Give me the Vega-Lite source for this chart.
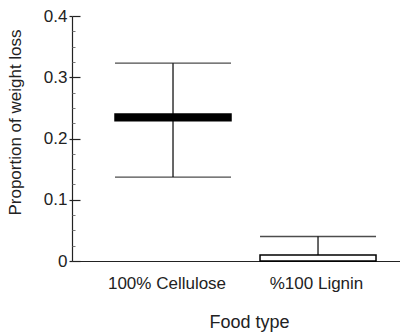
{
  "$schema": "https://vega.github.io/schema/vega-lite/v6.json",
  "width": 328,
  "height": 245,
  "autosize": "none",
  "padding": {"left": 72, "top": 16, "right": 0, "bottom": 71},
  "config": {
    "view": {"stroke": null},
    "font": "Liberation Sans",
    "axis": {"domainColor": "#222", "tickColor": "#222", "labelColor": "#222", "titleColor": "#222", "grid": false, "labelFont": "Liberation Sans", "titleFont": "Liberation Sans", "titleFontWeight": "normal"}
  },
  "data": {
    "values": [
      {"food": "100% Cellulose", "lo": 0.137, "q1": 0.229, "q3": 0.240, "hi": 0.323},
      {"food": "%100 Lignin", "lo": 0.0, "q1": 0.0, "q3": 0.010, "hi": 0.040}
    ]
  },
  "encoding": {
    "x": {
      "field": "food",
      "type": "nominal",
      "sort": null,
      "scale": {"domain": ["100% Cellulose", "%100 Lignin"], "paddingInner": 0.2, "paddingOuter": 0.231, "align": 0.642},
      "axis": {
        "title": "Food type",
        "titleFontSize": 18,
        "titleX": 177,
        "titleY": 66,
        "titleBaseline": "alphabetic",
        "titleAlign": "center",
        "labelAngle": 0,
        "labelFontSize": 17,
        "labelBaseline": "alphabetic",
        "labelPadding": 27,
        "ticks": false,
        "tickSize": 0,
        "domainWidth": 1.2,
        "labelOffset": {"condition": {"test": "datum.value == '100% Cellulose'", "value": -6}, "value": -1.5}
      }
    }
  },
  "resolve": {"axis": {"y": "independent"}},
  "layer": [
    {
      "mark": {"type": "rule", "color": "black", "strokeWidth": 1.2},
      "encoding": {
        "y": {
          "field": "lo",
          "type": "quantitative",
          "scale": {"domain": [0, 0.4], "nice": false},
          "axis": {
            "orient": "left",
            "title": "Proportion of weight loss",
            "titleFontSize": 17,
            "titleAngle": 270,
            "titleX": -52,
            "titleY": 106,
            "titleBaseline": "alphabetic",
            "titleAlign": "center",
            "values": [0, 0.1, 0.2, 0.3, 0.4],
            "format": "~g",
            "labelFontSize": 17,
            "labelPadding": 2,
            "tickSize": 3,
            "tickWidth": 1.2,
            "domainWidth": 1.2
          }
        },
        "y2": {"field": "hi"}
      }
    },
    {
      "mark": {"type": "tick", "color": "black", "size": 116, "thickness": 1.3},
      "encoding": {
        "y": {
          "field": "lo",
          "type": "quantitative",
          "axis": {"orient": "left", "title": null, "labels": false, "domain": false, "values": [0, 0.1, 0.2, 0.3, 0.4], "tickSize": -8, "tickWidth": 1.2}
        }
      }
    },
    {
      "mark": {"type": "tick", "color": "black", "size": 116, "thickness": 1.3},
      "encoding": {
        "y": {
          "field": "hi",
          "type": "quantitative",
          "axis": {"orient": "left", "title": null, "labels": false, "domain": false, "values": [0.025, 0.05, 0.075, 0.125, 0.15, 0.175, 0.225, 0.25, 0.275, 0.325, 0.35, 0.375], "tickSize": -3, "tickWidth": 1, "tickColor": "#777"}
        }
      }
    },
    {
      "mark": {"type": "bar", "stroke": "black", "strokeWidth": 1.5},
      "encoding": {
        "y": {"field": "q1", "type": "quantitative", "axis": null},
        "y2": {"field": "q3"},
        "fill": {"field": "food", "type": "nominal", "scale": {"domain": ["100% Cellulose", "%100 Lignin"], "range": ["black", "white"]}, "legend": null}
      }
    }
  ]
}
